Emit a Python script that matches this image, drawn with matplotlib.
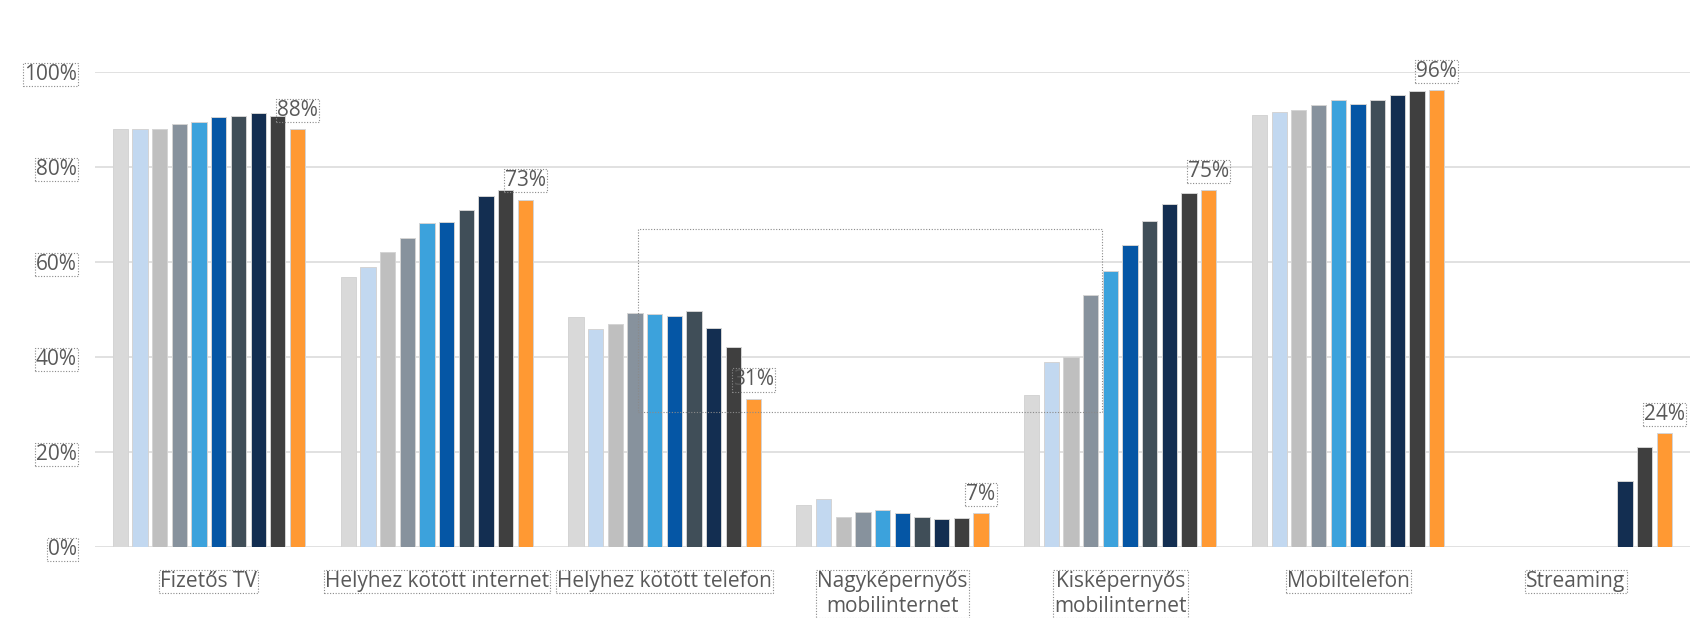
import matplotlib.pyplot as plt
from matplotlib.patches import Rectangle
import numpy as np

plt.rcParams['font.family'] = ['Open Sans', 'DejaVu Sans']
plt.rcParams['font.size'] = 15

categories = ["Fizetős TV", "Helyhez kötött internet", "Helyhez kötött telefon",
              "Nagyképernyős\nmobilinternet", "Kisképernyős\nmobilinternet",
              "Mobiltelefon", "Streaming"]

# one list per survey wave (10 waves), values in %
nan = np.nan
wave1 = [88.0, 56.9, 48.4, 8.9, 31.9, 91.0, nan]
wave2 = [88.0, 58.9, 45.8, 10.0, 39.0, 91.6, nan]
wave3 = [88.0, 62.2, 47.0, 6.3, 40.0, 91.9, nan]
wave4 = [89.0, 65.1, 49.3, 7.3, 53.1, 93.1, nan]
wave5 = [89.4, 68.2, 49.0, 7.8, 58.0, 94.0, nan]
wave6 = [90.5, 68.4, 48.6, 7.1, 63.6, 93.3, nan]
wave7 = [90.7, 70.9, 49.7, 6.4, 68.6, 94.0, nan]
wave8 = [91.4, 73.9, 46.2, 5.9, 72.2, 95.2, 13.9]
wave9 = [90.8, 75.1, 42.0, 6.1, 74.5, 96.1, 21.0]
wave10 = [88.0, 73.1, 31.2, 7.1, 75.1, 96.2, 23.9]
waves = [wave1, wave2, wave3, wave4, wave5, wave6, wave7, wave8, wave9, wave10]

last_labels = ["88%", "73%", "31%", "7%", "75%", "96%", "24%"]

colors = ['#D9D9D9', '#C2D8F0', '#BFBFBF', '#87929D', '#3CA2DC',
          '#0556A5', '#404E58', '#132E51', '#3F3F3F', '#FF9933']

text_color = '#595959'
box = dict(boxstyle='square,pad=0.05', fc='none', ec='#8a8a8a', ls=(0, (1, 1.5)), lw=0.8)

fig = plt.figure(figsize=(17, 6.18), dpi=100)
ax = fig.add_axes([0.0559, 0.1149, 0.9381, 0.7686])

x = np.arange(len(categories))
pitch = 0.0864
width = 0.0671
n = len(waves)
for i, vals in enumerate(waves):
    offs = (i - (n - 1) / 2) * pitch
    ax.bar(x + offs, vals, width=width, color=colors[i],
           edgecolor='#d4d4d4', linewidth=0.7, zorder=3)

# value labels above the latest wave
last_off = ((n - 1) - (n - 1) / 2) * pitch
for xi, v, lab in zip(x, wave10, last_labels):
    ax.annotate(lab, (xi + last_off, v), xytext=(0, 6), textcoords='offset points',
                ha='center', va='bottom', color=text_color, fontsize=15,
                bbox=box, annotation_clip=False)

ax.set_xlim(-0.5, len(categories) - 0.5)
ax.set_ylim(0, 100)
ax.set_yticks([0, 20, 40, 60, 80, 100])
ax.set_yticklabels(["0%", "20%", "40%", "60%", "80%", "100%"])
ax.set_xticks(x)
ax.set_xticklabels(categories, linespacing=1.3)
ax.tick_params(axis='y', length=0, pad=13, labelcolor=text_color, labelsize=15)
ax.tick_params(axis='x', length=0, pad=17, labelcolor=text_color, labelsize=15)
for t in ax.get_xticklabels() + ax.get_yticklabels():
    t.set_bbox(box)

ax.grid(axis='y', color='#DCDCDC', linewidth=1.2, zorder=0)
for s in ax.spines.values():
    s.set_visible(False)

# dotted selection frame left over in the screenshot
fig.patches.append(Rectangle((0.375, 0.333), 0.273, 0.296, transform=fig.transFigure,
                             fill=False, ec='#8a8a8a', ls=(0, (1, 1.5)), lw=0.8))

fig.savefig("out.png", dpi=100)
